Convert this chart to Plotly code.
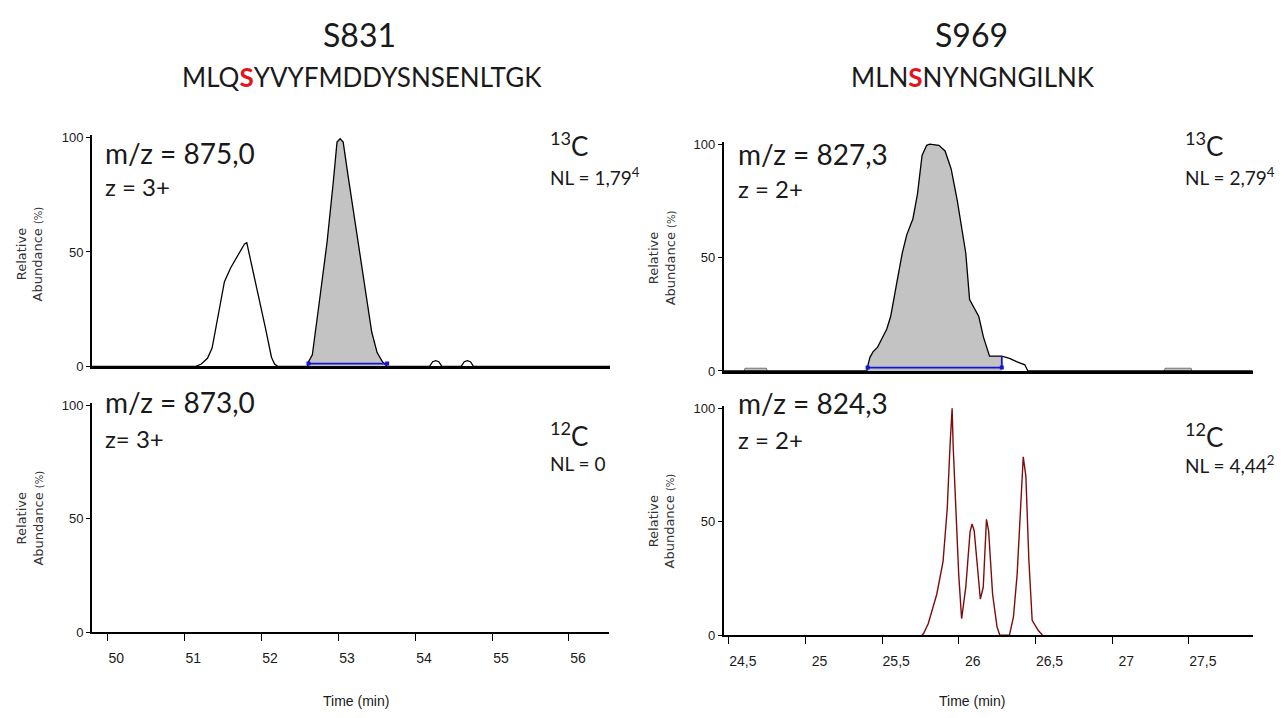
import plotly.graph_objects as go

W, H = 1288, 718

# ---- S831, 13C channel (m/z 875,0) ----
s831_heavy_t = [49.80, 51.15, 51.22, 51.30, 51.36, 51.44, 51.52, 51.60, 51.70, 51.78, 51.81,
                51.85, 51.95, 52.05, 52.13, 52.17, 52.21, 52.60, 52.61, 52.66, 52.75, 52.85,
                52.93, 52.98, 53.02, 53.06, 53.12, 53.20, 53.27, 53.35, 53.43, 53.50, 53.57,
                53.63, 54.18, 54.22, 54.26, 54.30, 54.34, 54.59, 54.63, 54.67, 54.71, 54.75, 56.52]
s831_heavy_y = [0, 0, 1, 3.5, 8, 22, 37, 43, 49, 53.5, 54,
                48, 33, 17, 4, 1, 0, 0, 2, 5, 28, 54,
                80, 98, 99.5, 98, 84, 66, 49, 31, 15, 6, 2,
                0, 0, 2, 2.5, 2, 0, 0, 2, 2.5, 2, 0, 0]
s831_peak_start, s831_peak_end = 52.61, 53.63

# ---- S831, 12C channel (m/z 873,0): no signal (NL = 0) ----
s831_light_t = []
s831_light_y = []

# ---- S969, 13C channel (m/z 827,3) ----
s969_heavy_t = [24.465, 25.400, 25.405, 25.42, 25.44, 25.47, 25.53, 25.555, 25.59, 25.63,
                25.66, 25.70, 25.73, 25.76, 25.79, 25.81, 25.87, 25.91, 25.935, 25.95, 25.99,
                26.045, 26.07, 26.10, 26.13, 26.16, 26.19, 26.20, 26.28, 26.33, 26.38, 26.43,
                26.45, 27.917]
s969_heavy_y = [0, 0, 2, 6, 8.4, 10.5, 18.5, 24, 37, 51.7,
                60, 67, 78, 95, 99.5, 100, 99.5, 97, 92, 89, 75,
                52, 31.5, 28, 24, 15, 8.4, 6.5, 6.5, 5.5, 4, 2.7,
                0, 0]
s969_peak_start, s969_peak_end = 25.405, 26.28
s969_minor_t = [[24.60, 24.605, 24.745, 24.75], [27.34, 27.345, 27.515, 27.52]]
s969_minor_y = [0, 1.2, 1.2, 0]

# ---- S969, 12C channel (m/z 824,3) ----
s969_light_t = [25.76, 25.77, 25.80, 25.856, 25.897, 25.924, 25.942, 25.956, 25.963,
                25.977, 25.999, 26.018, 26.045, 26.073, 26.086, 26.10, 26.12, 26.14, 26.159,
                26.18, 26.194, 26.22, 26.249, 26.267, 26.33, 26.356, 26.38, 26.41, 26.42,
                26.437, 26.456, 26.478, 26.518, 26.545]
s969_light_y = [0, 0.7, 5, 18, 32.5, 55.6, 83, 100, 83,
                58, 26.7, 7.2, 21, 45.5, 49, 46, 32.5, 15.9, 21,
                51, 46, 18, 3.6, 0, 0, 8, 26.7, 70, 78.6,
                70, 34, 6.5, 2, 0]

left_ticks = [50, 51, 52, 53, 54, 55, 56]
right_ticks = [24.5, 25, 25.5, 26, 26.5, 27, 27.5]
right_tick_text = ["24,5", "25", "25,5", "26", "26,5", "27", "27,5"]


def fx(px):
    return px / W


def fy(py):
    return 1 - py / H


TXT = "#1a1a1a"
BIG = "Lato, 'Open Sans', sans-serif"
SMALL = "'Liberation Sans Narrow', 'Liberation Sans', Arial, sans-serif"
AXT = "'DejaVu Sans', sans-serif"
GRAY = "#c3c3c3"
BLUE = "#1414d2"
RED = "#7e0c0c"

# panel boxes in pixels: (left, right, y at 0, y at 100, time range)
panels = {
    "1": (91.8, 610, 368.0, 135.0, [49.80, 56.52]),
    "2": (723.5, 1252.8, 372.7, 141.7, [24.465, 27.917]),
    "3": (91.8, 609, 639.0, 407.7, [49.80, 56.52]),
    "4": (723.5, 1252.8, 641.7, 410.7, [24.465, 27.917]),
}

fig = go.Figure()


def xa(k):
    return "x" if k == "1" else "x" + k


def ya(k):
    return "y" if k == "1" else "y" + k


def add_fill(k, t, y, t0, t1):
    ft = [v for v in t if t0 <= v <= t1]
    fyv = [y[i] for i, v in enumerate(t) if t0 <= v <= t1]
    fig.add_trace(go.Scatter(x=[t0] + ft + [t1], y=[0] + fyv + [0], mode="lines",
                             line=dict(width=0), fill="tozeroy", fillcolor=GRAY,
                             xaxis=xa(k), yaxis=ya(k), hoverinfo="skip"))


# S831 heavy
add_fill("1", s831_heavy_t, s831_heavy_y, s831_peak_start, s831_peak_end)
fig.add_trace(go.Scatter(x=s831_heavy_t, y=s831_heavy_y, mode="lines",
                         line=dict(color="black", width=1.3), xaxis="x", yaxis="y"))
fig.add_trace(go.Scatter(x=[s831_peak_start, s831_peak_end], y=[1.2, 1.2], mode="lines+markers",
                         line=dict(color=BLUE, width=1.8),
                         marker=dict(symbol="square", size=4, color=BLUE), xaxis="x", yaxis="y"))

# S831 light (empty chromatogram)
fig.add_trace(go.Scatter(x=s831_light_t, y=s831_light_y, mode="lines",
                         line=dict(color=RED, width=1.3), xaxis="x3", yaxis="y3"))

# S969 heavy
add_fill("2", s969_heavy_t, s969_heavy_y, s969_peak_start, s969_peak_end)
for mt in s969_minor_t:
    fig.add_trace(go.Scatter(x=mt, y=s969_minor_y, mode="lines", fill="tozeroy",
                             fillcolor=GRAY, line=dict(color="#555", width=0.8),
                             xaxis="x2", yaxis="y2"))
fig.add_trace(go.Scatter(x=s969_heavy_t, y=s969_heavy_y, mode="lines",
                         line=dict(color="black", width=1.3), xaxis="x2", yaxis="y2"))
fig.add_trace(go.Scatter(x=[s969_peak_start, s969_peak_end, s969_peak_end],
                         y=[1.5, 1.5, 6.5], mode="lines",
                         line=dict(color=BLUE, width=1.8), xaxis="x2", yaxis="y2"))
fig.add_trace(go.Scatter(x=[s969_peak_start, s969_peak_end], y=[1.5, 1.5], mode="markers",
                         marker=dict(symbol="square", size=4, color=BLUE),
                         xaxis="x2", yaxis="y2"))

# S969 light
fig.add_trace(go.Scatter(x=s969_light_t, y=s969_light_y, mode="lines",
                         line=dict(color=RED, width=1.4), xaxis="x4", yaxis="y4"))

layout = dict(width=W, height=H, margin=dict(l=0, r=0, t=0, b=0), showlegend=False,
              paper_bgcolor="white", plot_bgcolor="white")

for k, (l, r, p0, p100, xr) in panels.items():
    per = (p0 - p100) / 100.0
    top = p100 - per * 1.0
    bottom_axis = k in ("3", "4")
    xkey = "xaxis" if k == "1" else "xaxis" + k
    ykey = "yaxis" if k == "1" else "yaxis" + k
    xd = dict(domain=[fx(l), fx(r)], range=xr, showgrid=False, zeroline=False,
              showline=True, linecolor="black", linewidth=2 if bottom_axis else 3,
              anchor=ya(k), fixedrange=True, layer="below traces")
    if bottom_axis:
        if k == "3":
            tv, tt, shift = left_ticks, [str(v) for v in left_ticks], 9
        else:
            tv, tt, shift = right_ticks, right_tick_text, 14
        xd.update(tickmode="array", tickvals=tv, ticktext=tt, ticks="outside",
                  ticklen=7, tickwidth=1.3, tickcolor="black",
                  tickfont=dict(family=SMALL, size=14, color=TXT),
                  ticklabelshift=shift, ticklabelstandoff=5)
    else:
        xd.update(showticklabels=False, ticks="")
    yd = dict(domain=[fy(p0), fy(top)], range=[0, 101], showgrid=False, zeroline=False,
              showline=True, linecolor="black", linewidth=1.5, anchor=xa(k),
              tickmode="array", tickvals=[0, 50, 100], ticks="outside", ticklen=4,
              tickwidth=1, tickcolor="black",
              tickfont=dict(family=SMALL, size=13, color=TXT), fixedrange=True)
    layout[xkey] = xd
    layout[ykey] = yd

fig.update_layout(**layout)

ann = []


def text(x, y, s, size, family=BIG, xanchor="left", angle=0, color=TXT):
    ann.append(dict(x=fx(x), y=fy(y), xref="paper", yref="paper", text=s, showarrow=False,
                    xanchor=xanchor, yanchor="middle", textangle=angle,
                    font=dict(family=family, size=size, color=color)))


RS = '<span style="color:#e3141c"><b>S</b></span>'

# column titles and peptide sequences
text(360, 30, "S831", 32, xanchor="center")
text(362, 73, "MLQ" + RS + "YVYFMDDYSNSENLTGK", 26, xanchor="center")
text(971, 30, "S969", 32, xanchor="center")
text(973, 73, "MLN" + RS + "NYNGNGILNK", 26, xanchor="center")

# precursor labels
text(103, 151, "m/z = 875,0", 28)
text(103, 185, "z = 3+", 24)
text(103, 404, "m/z = 873,0", 28)
text(103, 441, "z= 3+", 24)
text(736, 152, "m/z = 827,3", 28)
text(736, 187, "z = 2+", 24)
text(736, 405, "m/z = 824,3", 28)
text(736, 443, "z = 2+", 24)

# isotope channel and normalisation level
text(548, 142, "<sup>13</sup>C", 26)
text(548, 175, "NL = 1,79<sup>4</sup>", 19)
text(1183, 142, "<sup>13</sup>C", 26)
text(1183, 175, "NL = 2,79<sup>4</sup>", 19)
text(548, 437, "<sup>12</sup>C", 26)
text(548, 467, "NL = 0", 19)
text(1183, 438, "<sup>12</sup>C", 26)
text(1183, 468, "NL = 4,44<sup>2</sup>", 19)

# y-axis titles
ytitle = 'Relative<br>Abundance <span style="font-size:10px">(%)</span>'
for (x, y) in [(30, 254), (30, 523), (662, 258), (662, 526)]:
    text(x, y, ytitle, 13, family=AXT, xanchor="center", angle=-90, color="#333")

# x-axis titles
text(356, 709, "Time (min)", 14, family=SMALL, xanchor="center")
text(972, 709, "Time (min)", 14, family=SMALL, xanchor="center")

fig.update_layout(annotations=ann)
fig.write_html("out.html")
